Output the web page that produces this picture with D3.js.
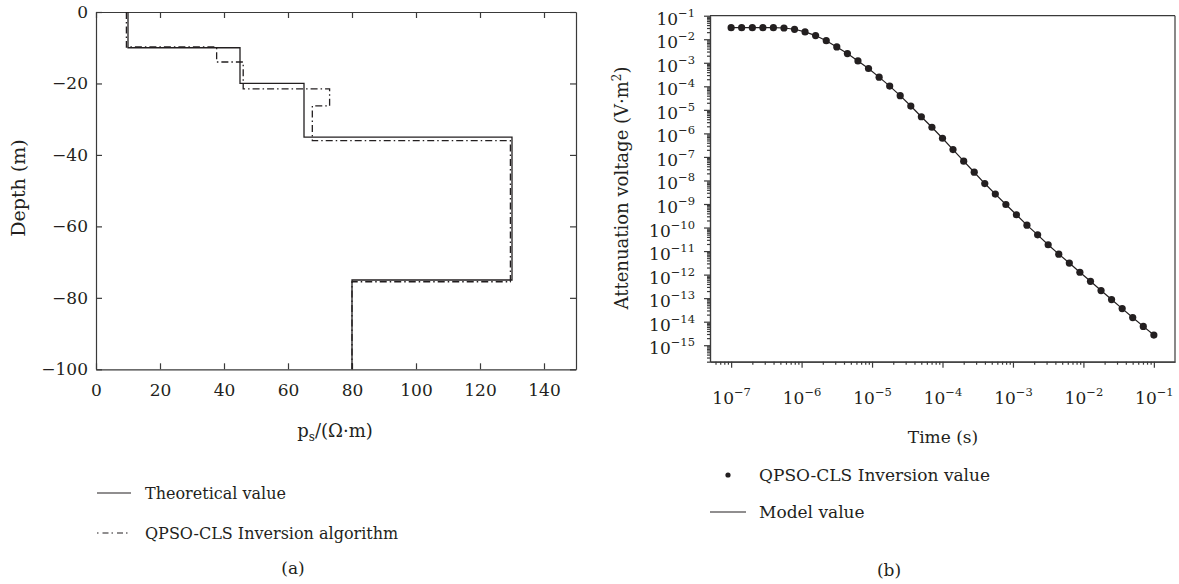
<!DOCTYPE html>
<html>
<head>
<meta charset="utf-8">
<script src="https://cdn.jsdelivr.net/npm/d3@7"></script>
<style>
  body { margin: 0; background: #fff; }
  svg text { font-family: "DejaVu Serif", "Liberation Serif", serif; fill: #231f20; }
  .axis path, .axis line { stroke: #3a3a3a; stroke-width: 1.2; }
</style>
</head>
<body>
<script>
'use strict';

// ---- panel (a): layered resistivity model ----
let layerBounds = [0, -10, -20, -35, -75, -100];       // depth (m)
let layerRho = [10, 45, 65, 130, 80];                  // theoretical resistivity
let invBounds = [0, -9.8, -14, -21.5, -26.3, -36, -75.5, -100];
let invRho = [9.5, 37.7, 46, 73, 67.6, 129.5, 80];     // QPSO-CLS inversion
let depthTicks = [0, -20, -40, -60, -80, -100];
let rhoTicks = [0, 20, 40, 60, 80, 100, 120, 140];

// ---- panel (b): attenuation voltage ----
let times = [1.0e-7, 1.41e-7, 2.0e-7, 2.82e-7, 3.98e-7, 5.62e-7, 7.94e-7,
  1.12e-6, 1.58e-6, 2.24e-6, 3.16e-6, 4.47e-6, 6.31e-6, 8.91e-6,
  1.26e-5, 1.78e-5, 2.51e-5, 3.55e-5, 5.01e-5, 7.08e-5,
  1.0e-4, 1.41e-4, 2.0e-4, 2.82e-4, 3.98e-4, 5.62e-4, 7.94e-4,
  1.12e-3, 1.58e-3, 2.24e-3, 3.16e-3, 4.47e-3, 6.31e-3, 8.91e-3,
  1.26e-2, 1.78e-2, 2.51e-2, 3.55e-2, 5.01e-2, 7.08e-2, 1.0e-1];
let inversionVolt = [3.1e-2, 3.1e-2, 3.1e-2, 3.1e-2, 3.1e-2, 3.0e-2, 2.65e-2,
  2.05e-2, 1.43e-2, 8.7e-3, 4.7e-3, 2.46e-3, 1.2e-3, 5.7e-4,
  2.45e-4, 1.02e-4, 4.0e-5, 1.45e-5, 5.1e-6, 1.82e-6,
  6.2e-7, 2.05e-7, 6.6e-8, 2.24e-8, 7.4e-9, 2.63e-9, 9.5e-10,
  3.5e-10, 1.26e-10, 4.9e-11, 1.86e-11, 7.4e-12, 3.1e-12, 1.26e-12,
  5.2e-13, 2.1e-13, 8.7e-14, 3.6e-14, 1.5e-14, 6.3e-15, 2.7e-15];
let modelVolt = inversionVolt.slice(); // model curve lies on the points
let timeExps = [-7, -6, -5, -4, -3, -2, -1];
let voltExps = [-1, -2, -3, -4, -5, -6, -7, -8, -9, -10, -11, -12, -13, -14, -15];

let svg = d3.select('body').append('svg')
  .attr('width', 1179)
  .attr('height', 584);

drawPanelA();
drawPanelB();

// step profile points from boundaries + values
function stepPoints(bounds, vals) {
  let pts = [];
  for (let i = 0; i < vals.length; i++) {
    pts.push([vals[i], bounds[i]]);
    pts.push([vals[i], bounds[i + 1]]);
  }
  return pts;
}

function drawPanelA() {
  let x = d3.scaleLinear().domain([0, 150]).range([96, 576]);
  let y = d3.scaleLinear().domain([-100, 0]).range([369.3, 12]);

  let g = svg.append('g');

  g.append('g').attr('class', 'axis')
    .attr('transform', 'translate(0,' + y(-100) + ')')
    .call(d3.axisBottom(x).tickValues(rhoTicks).tickSize(-6).tickSizeOuter(0).tickPadding(15))
    .selectAll('text').style('font-size', '17px');
  g.append('g').attr('class', 'axis')
    .attr('transform', 'translate(0,' + y(0) + ')')
    .call(d3.axisTop(x).tickValues(rhoTicks).tickSize(-6).tickSizeOuter(0).tickFormat(''));
  g.append('g').attr('class', 'axis')
    .attr('transform', 'translate(' + x(0) + ',0)')
    .call(d3.axisLeft(y).tickValues(depthTicks).tickSize(-6).tickSizeOuter(0).tickPadding(8)
      .tickFormat(d => d < 0 ? '\u2212' + (-d) : d))
    .selectAll('text').style('font-size', '17px');
  g.append('g').attr('class', 'axis')
    .attr('transform', 'translate(' + x(150) + ',0)')
    .call(d3.axisRight(y).tickValues(depthTicks).tickSize(-6).tickSizeOuter(0).tickFormat(''));

  let line = d3.line().x(d => x(d[0])).y(d => y(d[1]));

  g.append('path')
    .attr('d', line(stepPoints(layerBounds, layerRho)))
    .attr('fill', 'none').attr('stroke', '#231f20').attr('stroke-width', 1.3);
  g.append('path')
    .attr('d', line(stepPoints(invBounds, invRho)))
    .attr('fill', 'none').attr('stroke', '#231f20').attr('stroke-width', 1.3)
    .attr('stroke-dasharray', '7,3,1.5,3');

  // axis titles
  g.append('text')
    .attr('transform', 'translate(25,188)rotate(-90)')
    .attr('text-anchor', 'middle')
    .style('font-size', '19px')
    .text('Depth (m)');
  let xt = g.append('text')
    .attr('x', 335).attr('y', 437)
    .attr('text-anchor', 'middle')
    .style('font-size', '18px');
  xt.append('tspan').text('p');
  xt.append('tspan').attr('dy', 4).style('font-size', '12px').text('s');
  xt.append('tspan').attr('dy', -4).text('/(\u03A9\u00B7m)');

  // legend
  g.append('line').attr('x1', 97).attr('x2', 131).attr('y1', 493).attr('y2', 493)
    .attr('stroke', '#231f20').attr('stroke-width', 1.2);
  g.append('text').attr('x', 145).attr('y', 499).style('font-size', '16px').text('Theoretical value');
  g.append('line').attr('x1', 97).attr('x2', 131).attr('y1', 533).attr('y2', 533)
    .attr('stroke', '#231f20').attr('stroke-width', 1.2).attr('stroke-dasharray', '1.5,4,6,3');
  g.append('text').attr('x', 145).attr('y', 539).style('font-size', '16px').text('QPSO-CLS Inversion algorithm');

  g.append('text').attr('x', 293).attr('y', 574).attr('text-anchor', 'middle')
    .style('font-size', '17px').text('(a)');
}

function powLabel(sel, e) {
  sel.text('');
  sel.append('tspan').text('10');
  sel.append('tspan').attr('dy', -8).style('font-size', '11.5px').text('\u2212' + (-e));
}

function drawPanelB() {
  let x = d3.scaleLog().domain([Math.pow(10, -7.3), Math.pow(10, -0.7)]).range([710, 1175]);
  let y = d3.scaleLog().domain([Math.pow(10, -15.7), 1e-1]).range([361.7, 15.7]);

  let g = svg.append('g');

  // minor ticks
  let xMinor = [];
  for (let e = -8; e <= -1; e++) for (let m = 2; m <= 9; m++) {
    let v = m * Math.pow(10, e);
    if (v >= x.domain()[0] && v <= x.domain()[1]) xMinor.push(v);
  }
  let yMinor = [];
  for (let e = -16; e <= -2; e++) for (let m = 2; m <= 9; m++) {
    let v = m * Math.pow(10, e);
    if (v >= y.domain()[0] && v <= y.domain()[1]) yMinor.push(v);
  }

  g.append('g').attr('class', 'axis')
    .attr('transform', 'translate(0,361.7)')
    .call(d3.axisBottom(x).tickValues(xMinor).tickSize(3).tickSizeOuter(0).tickFormat(''));
  g.append('g').attr('class', 'axis')
    .attr('transform', 'translate(710,0)')
    .call(d3.axisLeft(y).tickValues(yMinor).tickSize(3).tickSizeOuter(0).tickFormat(''));

  let xAx = g.append('g').attr('class', 'axis')
    .attr('transform', 'translate(0,361.7)')
    .call(d3.axisBottom(x).tickValues(timeExps.map(e => Math.pow(10, e))).tickSize(6).tickSizeOuter(0).tickPadding(24));
  xAx.selectAll('.tick text').style('font-size', '17px')
    .each(function(d, i) { powLabel(d3.select(this), timeExps[i]); });

  let yAx = g.append('g').attr('class', 'axis')
    .attr('transform', 'translate(710,0)')
    .call(d3.axisLeft(y).tickValues(voltExps.map(e => Math.pow(10, e))).tickSize(6).tickSizeOuter(0).tickPadding(9));
  yAx.selectAll('.tick text').style('font-size', '17px').attr('dy', '0.5em')
    .each(function(d, i) { powLabel(d3.select(this), voltExps[i]); });

  // frame top/right
  g.append('line').attr('x1', 710).attr('x2', 1175).attr('y1', 15.7).attr('y2', 15.7)
    .attr('stroke', '#3a3a3a').attr('stroke-width', 1.2);
  g.append('line').attr('x1', 1175).attr('x2', 1175).attr('y1', 15.7).attr('y2', 361.7)
    .attr('stroke', '#3a3a3a').attr('stroke-width', 1.2);

  // model line
  g.append('path')
    .datum(times.map((t, i) => [t, modelVolt[i]]))
    .attr('d', d3.line().x(d => x(d[0])).y(d => y(d[1])))
    .attr('fill', 'none').attr('stroke', '#231f20').attr('stroke-width', 1.2);

  // inversion points
  g.selectAll('.dot')
    .data(times.map((t, i) => [t, inversionVolt[i]]))
    .enter().append('circle')
    .attr('cx', d => x(d[0]))
    .attr('cy', d => y(d[1]))
    .attr('r', 3.6)
    .attr('fill', '#231f20');

  // titles
  let yt = g.append('text')
    .attr('transform', 'translate(628,188)rotate(-90)')
    .attr('text-anchor', 'middle')
    .style('font-size', '18px');
  yt.append('tspan').text('Attenuation voltage (V\u00B7m');
  yt.append('tspan').attr('dy', -7).style('font-size', '12px').text('2');
  yt.append('tspan').attr('dy', 7).text(')');

  g.append('text').attr('x', 943).attr('y', 443).attr('text-anchor', 'middle')
    .style('font-size', '17px').text('Time (s)');

  // legend
  g.append('circle').attr('cx', 728).attr('cy', 475).attr('r', 2.6).attr('fill', '#231f20');
  g.append('text').attr('x', 759).attr('y', 481).style('font-size', '17px').text('QPSO-CLS Inversion value');
  g.append('line').attr('x1', 710).attr('x2', 746).attr('y1', 512).attr('y2', 512)
    .attr('stroke', '#231f20').attr('stroke-width', 1.2);
  g.append('text').attr('x', 759).attr('y', 518).style('font-size', '17px').text('Model value');

  g.append('text').attr('x', 889).attr('y', 576).attr('text-anchor', 'middle')
    .style('font-size', '17px').text('(b)');
}
</script>
</body>
</html>
